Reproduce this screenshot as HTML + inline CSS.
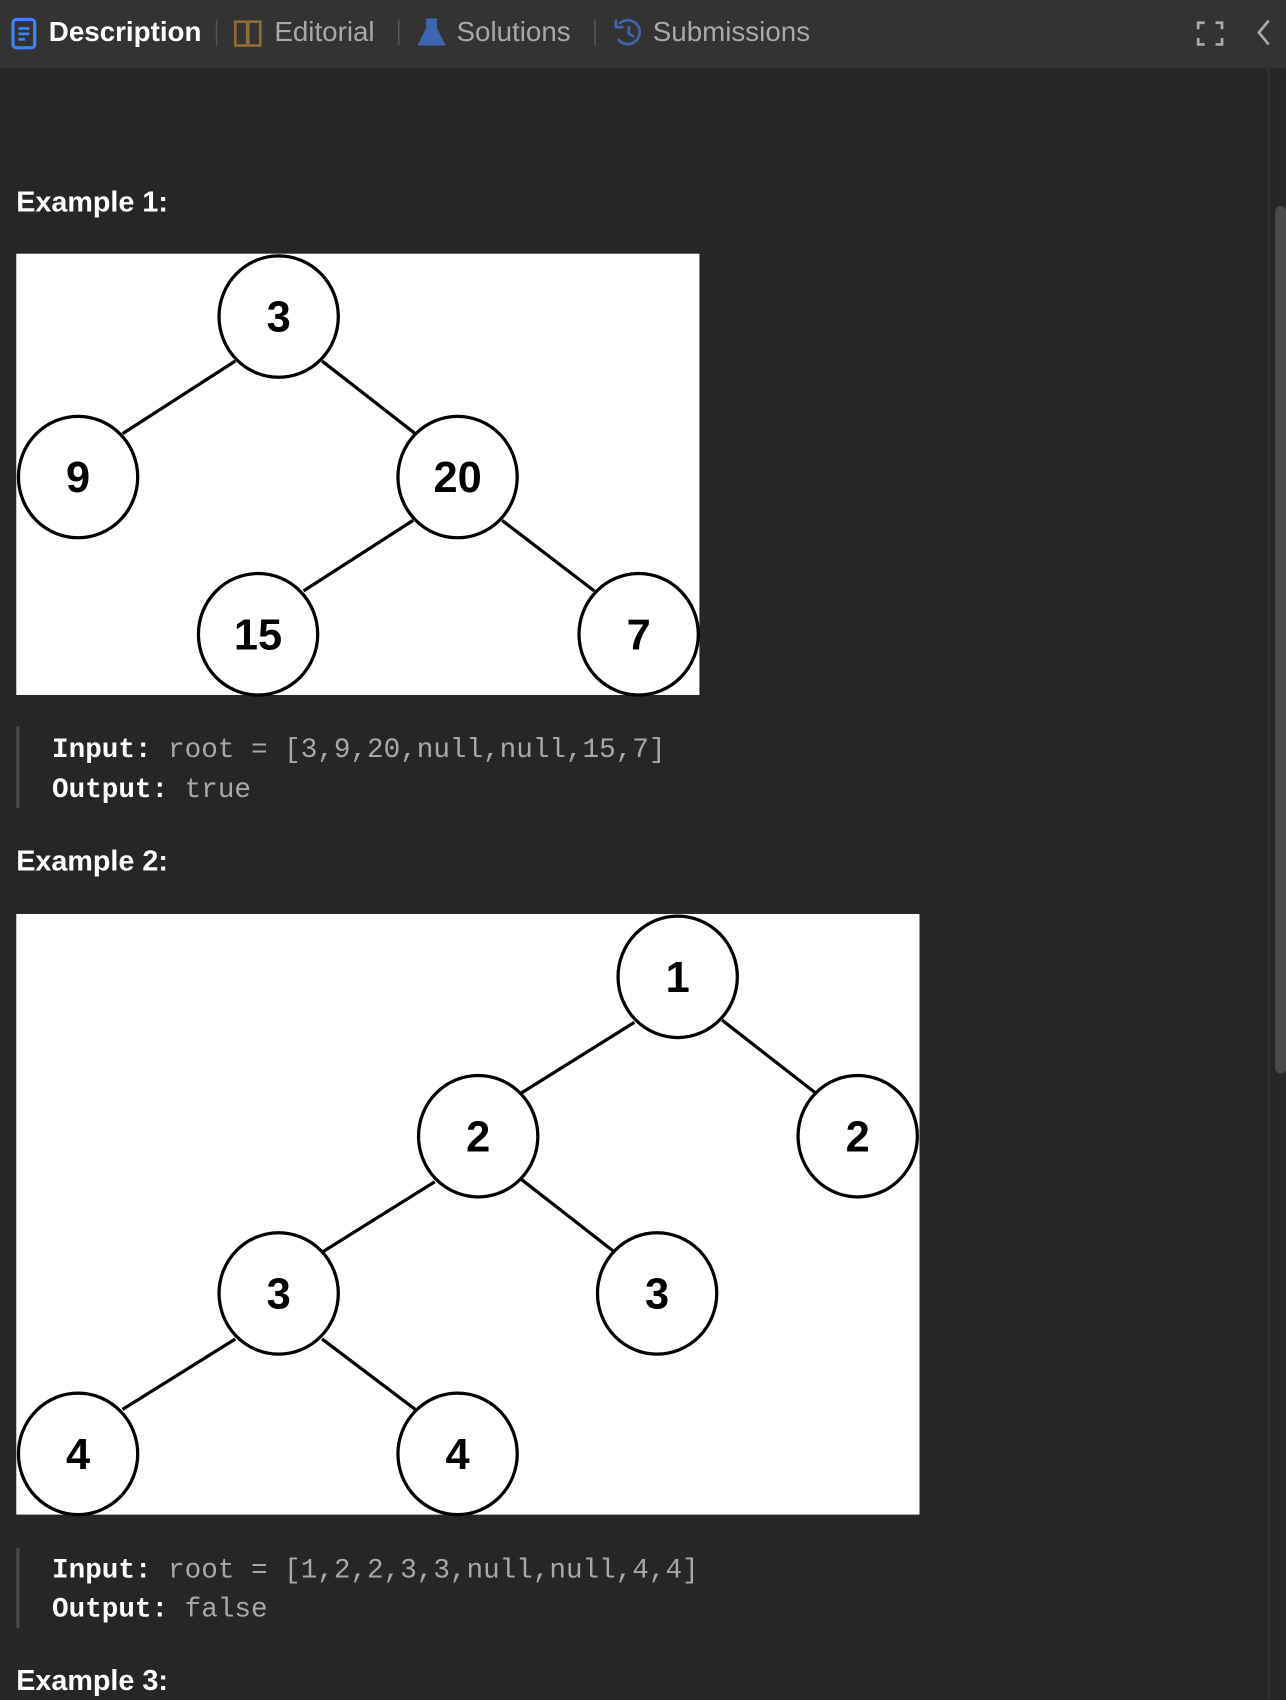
<!DOCTYPE html>
<html><head><meta charset="utf-8"><style>
html,body{margin:0;padding:0;background:#262626;overflow:hidden}
svg{display:block}
</style></head><body>
<svg width="1286" height="1700" viewBox="0 0 1186 1568" preserveAspectRatio="none" xmlns="http://www.w3.org/2000/svg">
<rect width="1186" height="1568" fill="#262626"/>
<rect width="1186" height="63" fill="#333333"/>
<rect x="1169" y="63" width="2" height="1505" fill="#333"/>
<rect x="1176" y="190" width="10" height="800" rx="5" fill="#4a4a4a"/>
<!-- header -->
<g font-family="Liberation Sans, sans-serif" font-size="25.6">
<rect x="12" y="18" width="20" height="26" rx="3" fill="none" stroke="#3b82f6" stroke-width="3"/>
<rect x="17" y="25" width="10" height="2.5" fill="#3b82f6"/><rect x="17" y="30" width="10" height="2.5" fill="#3b82f6"/><rect x="17" y="35" width="6" height="2.5" fill="#3b82f6"/>
<text x="45" y="38" fill="#fff" font-weight="bold">Description</text>
<rect x="199" y="18" width="1.5" height="24" fill="#555"/>
<path d="M217 20h11v22h-11z M229 20h11v22h-11z" fill="none" stroke="#8d6c3a" stroke-width="2.5"/>
<text x="253" y="38" fill="#a8a8a8">Editorial</text>
<rect x="367" y="18" width="1.5" height="24" fill="#555"/>
<path d="M393 17h10v9l8 16h-26l8-16z" fill="#3f65b0"/>
<text x="421" y="38" fill="#a8a8a8">Solutions</text>
<rect x="548" y="18" width="1.5" height="24" fill="#555"/>
<path d="M571 22a11 11 0 1 1 -1 14" fill="none" stroke="#3f65b0" stroke-width="2.5"/>
<path d="M568 18v7h7" fill="none" stroke="#3f65b0" stroke-width="2.5"/>
<path d="M580 24v7l5 3" fill="none" stroke="#3f65b0" stroke-width="2.5"/>
<text x="602" y="38" fill="#a8a8a8">Submissions</text>
<path d="M1105 27v-6h6 M1121 21h6v6 M1127 35v6h-6 M1111 41h-6v-6" fill="none" stroke="#aaa" stroke-width="2.5"/>
<path d="M1170 19l-9 11l9 11" fill="none" stroke="#aaa" stroke-width="2.5"/>
</g>
<g font-family="Liberation Sans, sans-serif" font-weight="bold" font-size="26.5" fill="#fff">
<text x="15" y="195">Example 1:</text>
<text x="15" y="803">Example 2:</text>
<text x="15" y="1559">Example 3:</text>
</g>
<!-- image 1 -->
<rect x="15" y="234" width="630" height="407" fill="#fff"/>
<g stroke="#000" stroke-width="3" fill="none">
<line x1="217" y1="333" x2="113" y2="400"/><line x1="297" y1="333" x2="383" y2="400"/>
<line x1="381" y1="480" x2="280" y2="545"/><line x1="463" y1="480" x2="548" y2="545"/>
<ellipse cx="257" cy="292" rx="55" ry="56"/><ellipse cx="72" cy="440" rx="55" ry="56"/>
<ellipse cx="422" cy="440" rx="55" ry="56"/><ellipse cx="238" cy="585" rx="55" ry="56"/>
<ellipse cx="589" cy="585" rx="55" ry="56"/>
</g>
<g font-family="Liberation Sans, sans-serif" font-weight="bold" font-size="40" text-anchor="middle" fill="#000">
<text x="257" y="306">3</text><text x="72" y="454">9</text><text x="422" y="454">20</text>
<text x="238" y="599">15</text><text x="589" y="599">7</text>
</g>
<!-- image 2 -->
<rect x="15" y="843" width="833" height="554" fill="#fff"/>
<g stroke="#000" stroke-width="3" fill="none">
<line x1="585" y1="943" x2="481" y2="1008"/><line x1="666" y1="941" x2="752" y2="1008"/>
<line x1="401" y1="1090" x2="297" y2="1155"/><line x1="481" y1="1088" x2="567" y2="1155"/>
<line x1="217" y1="1235" x2="113" y2="1300"/><line x1="297" y1="1235" x2="383" y2="1300"/>
<ellipse cx="625" cy="901" rx="55" ry="56"/><ellipse cx="441" cy="1048" rx="55" ry="56"/>
<ellipse cx="791" cy="1048" rx="55" ry="56"/><ellipse cx="257" cy="1193" rx="55" ry="56"/>
<ellipse cx="606" cy="1193" rx="55" ry="56"/><ellipse cx="72" cy="1341" rx="55" ry="56"/>
<ellipse cx="422" cy="1341" rx="55" ry="56"/>
</g>
<g font-family="Liberation Sans, sans-serif" font-weight="bold" font-size="40" text-anchor="middle" fill="#000">
<text x="625" y="915">1</text><text x="441" y="1062">2</text><text x="791" y="1062">2</text>
<text x="257" y="1207">3</text><text x="606" y="1207">3</text><text x="72" y="1355">4</text><text x="422" y="1355">4</text>
</g>
<!-- code blocks -->
<rect x="15" y="670" width="3" height="75" fill="#4a4a4a"/>
<rect x="15" y="1428" width="3" height="74" fill="#4a4a4a"/>
<g font-family="Liberation Mono, monospace" font-size="25.5" fill="#a8a8a8">
<text x="48" y="698"><tspan fill="#fff" font-weight="bold">Input:</tspan> root = [3,9,20,null,null,15,7]</text>
<text x="48" y="735"><tspan fill="#fff" font-weight="bold">Output:</tspan> true</text>
<text x="48" y="1455"><tspan fill="#fff" font-weight="bold">Input:</tspan> root = [1,2,2,3,3,null,null,4,4]</text>
<text x="48" y="1491"><tspan fill="#fff" font-weight="bold">Output:</tspan> false</text>
</g>
</svg>
</body></html>
